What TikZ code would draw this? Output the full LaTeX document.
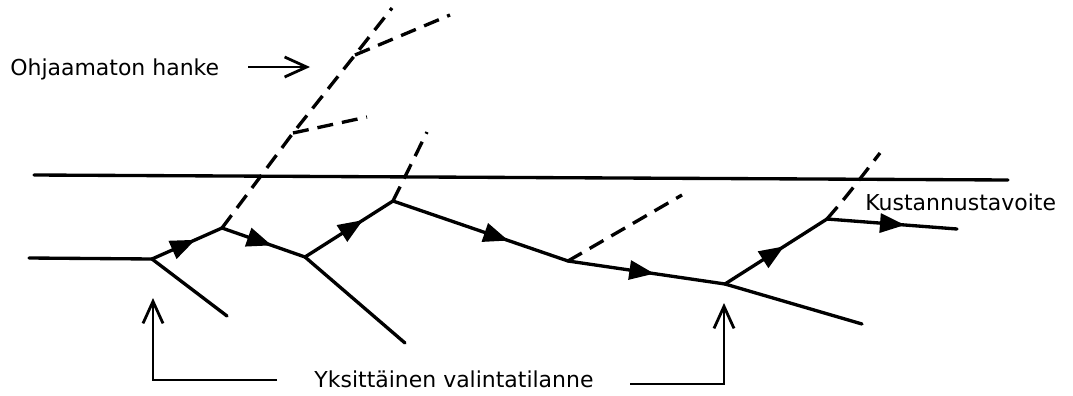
\documentclass[tikz,border=0pt]{standalone}
\usepackage{fontspec}
\setmainfont{DejaVu Sans}
\usetikzlibrary{arrows.meta,decorations.markings}

\tikzset{
  route/.style={line width=1.9pt, line cap=round},
  flow/.style={route, postaction={decorate},
    decoration={markings, mark=at position #1 with {\arrow{Triangle[length=0.5cm,width=0.38cm]}}}},
  loose/.style={line width=1.9pt, dash pattern=on 0.32cm off 0.18cm},
  pointer/.style={line width=1.6pt, -{Straight Barb[length=0.44cm,width=0.4cm]}},
  lbl/.style={font=\fontsize{12.5}{14}\selectfont, inner sep=0pt},
}

\begin{document}
\begin{tikzpicture}[x=0.02cm, y=-0.02cm]
    \useasboundingbox (0,0) rectangle (1073,396);

    % cost target
    \coordinate (goalL) at (34,175);
    \coordinate (goalR) at (1008,180);
    \draw[route] (goalL) -- (goalR);

    % decision points
    \coordinate (start) at (29,258);
    \coordinate (A) at (152,259);
    \coordinate (B) at (222,228);
    \coordinate (C) at (305,257);
    \coordinate (D) at (393,201);
    \coordinate (E) at (568,261);
    \coordinate (F) at (725,284);
    \coordinate (G) at (827,219);
    \coordinate (finish) at (957,229);

    \draw[route] (start) -- (A);
    \draw[flow=0.62] (A) -- (B);
    \draw[flow=0.6] (B) -- (C);
    \draw[flow=0.66] (C) -- (D);
    \draw[flow=0.66] (D) -- (E);
    \draw[flow=0.55] (E) -- (F);
    \draw[flow=0.58] (F) -- (G);
    \draw[flow=0.6] (G) -- (finish);

    % rejected options
    \coordinate (Aout) at (227,316);
    \coordinate (Cout) at (405,343);
    \coordinate (Fout) at (862,324);
    \draw[route] (A) -- (Aout);
    \draw[route] (C) -- (Cout);
    \draw[route] (F) -- (Fout);

    % uncontrolled project
    \coordinate (I) at (293,133);
    \coordinate (H) at (355,55);
    \coordinate (Iout) at (367,117);
    \coordinate (Htop) at (392,8);
    \coordinate (Hout) at (450,15);
    \coordinate (Dtop) at (427,132);
    \coordinate (Eout) at (682,195);
    \coordinate (Gtop) at (880,153);
    \draw[loose] (B) -- (I) -- (H) -- (Htop);
    \draw[loose] (I) -- (Iout);
    \draw[loose] (H) -- (Hout);
    \draw[loose] (D) -- (Dtop);
    \draw[loose] (E) -- (Eout);
    \draw[loose] (G) .. controls (846,197) .. (Gtop);

    % labels
    \node[lbl, anchor=base west] (hanke) at (10,75) {Ohjaamaton hanke};
    \coordinate (hanketail) at (248,67);
    \coordinate (hanketip) at (310,67);
    \draw[pointer] (hanketail) -- (hanketip);

    \node[lbl, anchor=base west] (tavoite) at (865,210) {Kustannustavoite};

    \node[lbl, anchor=base] (valinta) at (454,387) {Yksittäinen valintatilanne};
    \coordinate (lefttail) at (277,380);
    \coordinate (leftup) at (153,298);
    \coordinate (righttail) at (630,384);
    \coordinate (rightup) at (724,303);
    \draw[pointer] (lefttail) -| (leftup);
    \draw[pointer] (righttail) -| (rightup);
\end{tikzpicture}
\end{document}
